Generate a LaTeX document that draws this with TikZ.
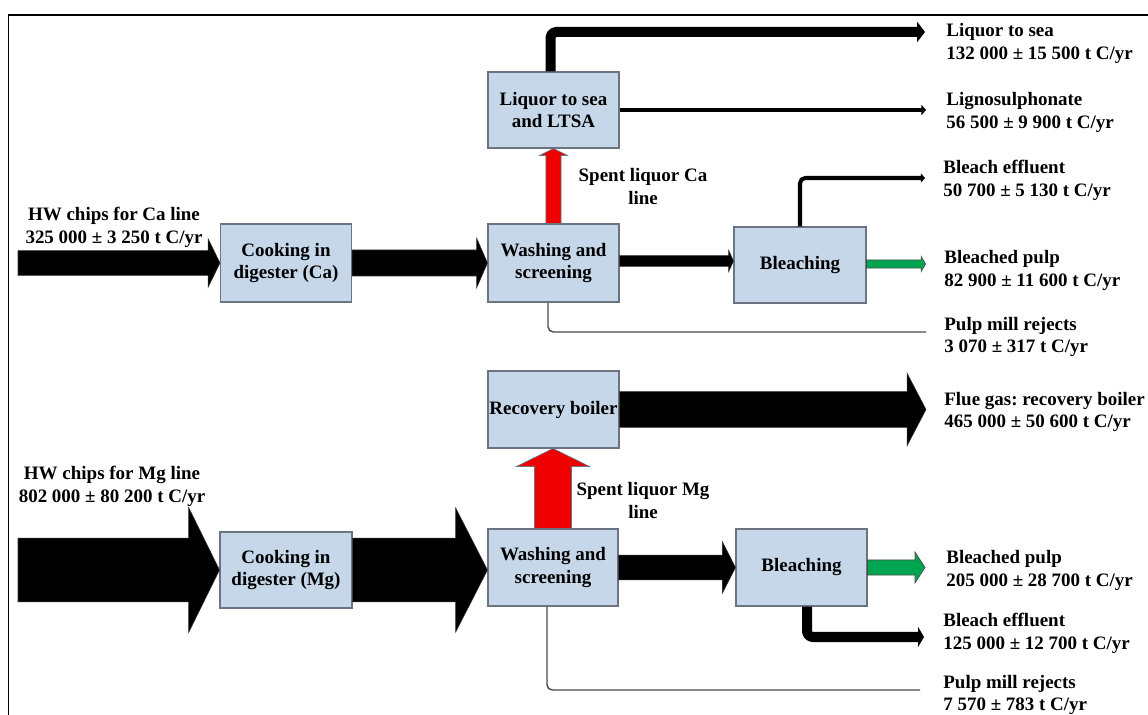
\documentclass[tikz,border=0pt]{standalone}
\usepackage{fontspec}
\setmainfont{Liberation Serif}
\usetikzlibrary{calc,arrows.meta}
\frenchspacing

\definecolor{boxfill}{HTML}{C5D7E9}
\definecolor{boxline}{HTML}{6B7480}
\definecolor{flowred}{HTML}{EE0000}
\definecolor{flowgreen}{HTML}{00A64F}
\definecolor{rejline}{HTML}{4A4A4A}

\tikzset{
  unit/.style={inner sep=0pt, font=\fontsize{10.8}{13}\selectfont\bfseries},
  proc/.style={unit, rectangle, draw=boxline, line width=0.6pt, fill=boxfill,
    align=center, minimum width=2.62cm},
  lbl/.style={unit, align=left, anchor=west},
  clbl/.style={unit, align=center},
  % horizontal block arrow: shaft half-width, head half-width, head length
  blkR/.style n args={3}{to path={let \p1=(\tikztostart), \p2=(\tikztotarget) in
    (\x1,\y1+#1) -- (\x2-#3,\y1+#1) -- (\x2-#3,\y1+#2) -- (\x2,\y1)
    -- (\x2-#3,\y1-#2) -- (\x2-#3,\y1-#1) -- (\x1,\y1-#1) -- cycle}},
  % upward block arrow
  blkU/.style n args={3}{to path={let \p1=(\tikztostart), \p2=(\tikztotarget) in
    (\x1-#1,\y1) -- (\x1-#1,\y2-#3) -- (\x1-#2,\y2-#3) -- (\x1,\y2)
    -- (\x1+#2,\y2-#3) -- (\x1+#1,\y2-#3) -- (\x1+#1,\y1) -- cycle}},
  blackflow/.style={fill=black, draw=black!80, line width=0.3pt},
  redflow/.style={fill=flowred, draw=boxline, line width=0.4pt},
  greenflow/.style={fill=flowgreen, draw=black!70, line width=0.4pt},
  pipe/.style={line width=#1, rounded corners=3pt, line join=round},
  rejects/.style={draw=rejline, line width=0.8pt, rounded corners=3pt},
}

\begin{document}
\begin{tikzpicture}[x=0.02cm, y=-0.02cm]
\useasboundingbox (0,0) rectangle (1148,715);

% frame
\draw[line width=1.1pt] (8.5,715) -- (8.5,15) -- (1148,15);

% process boxes
\node[proc, minimum height=1.56cm] (cookCa) at (286,263) {Cooking in\\digester (Ca)};
\node[proc, minimum height=1.56cm] (washCa) at (553.5,263) {Washing and\\screening};
\node[proc, minimum height=1.52cm] (liqCa) at (553.5,110) {Liquor to sea\\and LTSA};
\node[proc, minimum height=1.52cm, minimum width=2.64cm] (bleachCa) at (800,265) {Bleaching};

\node[proc, minimum height=1.52cm, minimum width=2.64cm] (cookMg) at (286,570) {Cooking in\\digester (Mg)};
\node[proc, minimum height=1.54cm, minimum width=2.60cm] (washMg) at (553,567.5) {Washing and\\screening};
\node[proc, minimum height=1.54cm] (recMg) at (553.5,409.5) {\makebox[0pt]{Recovery boiler}};
\node[proc, minimum height=1.54cm] (bleachMg) at (801.5,567.5) {Bleaching};

% free ends of the flows
\coordinate (inCa) at (18,263);
\coordinate (inMg) at (18,570);
\coordinate (sea) at (925,32);
\coordinate (lig) at (926,110);
\coordinate (beCa) at (925,178);
\coordinate (bpCa) at (925.5,264);
\coordinate (rjCa) at (926,332);
\coordinate (flue) at (926,409.5);
\coordinate (bpMg) at (925,567.5);
\coordinate (beMg) at (924,637);
\coordinate (rjMg) at (920,690);

% Ca line
\draw[blackflow] (inCa) to[blkR={7.1pt}{13.9pt}{6.8pt}] (cookCa.west);
\draw[blackflow] (cookCa.east) to[blkR={7.4pt}{14.2pt}{6.2pt}] (washCa.west);
\draw[blackflow] ($(washCa.east)+(0,-2)$) to[blkR={3.1pt}{6.2pt}{2.8pt}] (bleachCa.west);
\draw[redflow] (washCa.north) to[blkU={4.3pt}{7.9pt}{4pt}] (liqCa.south);
\draw[greenflow] ($(bleachCa.east)+(0,-1)$) to[blkR={2.3pt}{4.3pt}{2.5pt}] (bpCa);

\draw[pipe=5.7pt, -{Triangle[width=11.4pt,length=4.5pt]}]
  ($(liqCa.north)+(-3,0)$) |- (sea);
\draw[pipe=2.6pt, -{Triangle[width=5.8pt,length=2.6pt]}] (liqCa.east) -- (lig);
\draw[pipe=2.3pt, -{Triangle[width=5.2pt,length=2.4pt]}] (bleachCa.north) |- (beCa);
\draw[rejects] ($(washCa.south)+(-5.5,0)$) |- (rjCa);

% Mg line
\draw[blackflow] (inMg) to[blkR={18.2pt}{35.7pt}{17.6pt}] (cookMg.west);
\draw[blackflow] (cookMg.east) to[blkR={18.2pt}{35.5pt}{18.2pt}] (washMg.west);
\draw[blackflow] (washMg.east) to[blkR={7.1pt}{14.5pt}{7.4pt}] (bleachMg.west);
\draw[blackflow] (recMg.east) to[blkR={10.2pt}{20.7pt}{10.8pt}] (flue);
\draw[redflow] (washMg.north) to[blkU={10.5pt}{20.7pt}{10.2pt}] (recMg.south);
\draw[greenflow] (bleachMg.east) to[blkR={4.3pt}{8.8pt}{5.7pt}] (bpMg);

\draw[pipe=5.7pt, -{Triangle[width=11.4pt,length=3.4pt]}]
  ($(bleachMg.south)+(5.5,0)$) |- (beMg);
\draw[rejects] ($(washMg.south)+(-6,0)$) |- (rjMg);

% labels
\node[clbl] (hwCa) at (114,227) {HW chips for Ca line\\325 000 ± 3 250 t C/yr};
\node[clbl] (hwMg) at (112,486) {HW chips for Mg line\\802 000 ± 80 200 t C/yr};
\node[clbl] (slCa) at (643,186.5) {Spent liquor Ca\\line};
\node[clbl] (slMg) at (643,500.5) {Spent liquor Mg\\line};

\node[lbl] (tSea) at (946,43.5) {Liquor to sea\\132 000 ± 15 500 t C/yr};
\node[lbl] (tLig) at (946,112.5) {Lignosulphonate\\56 500 ± 9 900 t C/yr};
\node[lbl] (tBeCa) at (943,180.5) {Bleach effluent\\50 700 ± 5 130 t C/yr};
\node[lbl] (tBpCa) at (944,270.5) {Bleached pulp\\82 900 ± 11 600 t C/yr};
\node[lbl] (tRjCa) at (944,337) {Pulp mill rejects\\3 070 ± 317 t C/yr};
\node[lbl] (tFlue) at (944,412) {Flue gas: recovery boiler\\465 000 ± 50 600 t C/yr};
\node[lbl] (tBpMg) at (946,570.5) {Bleached pulp\\205 000 ± 28 700 t C/yr};
\node[lbl] (tBeMg) at (943,633.5) {Bleach effluent\\125 000 ± 12 700 t C/yr};
\node[lbl] (tRjMg) at (943,695) {Pulp mill rejects\\7 570 ± 783 t C/yr};
\end{tikzpicture}
\end{document}
